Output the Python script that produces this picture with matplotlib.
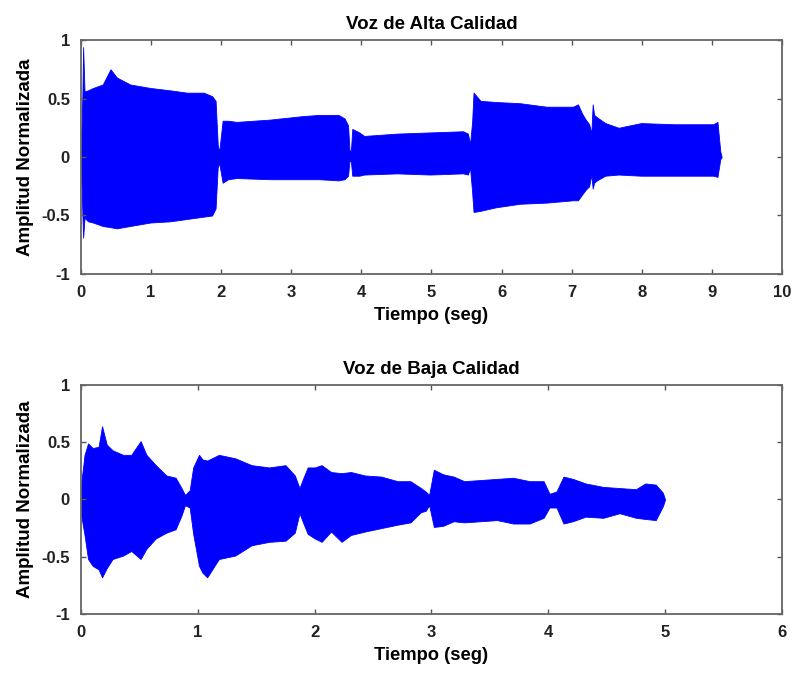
import matplotlib
matplotlib.use('Agg')
import matplotlib.pyplot as plt
import numpy as np

plt.rcParams['font.family'] = ['Liberation Sans', 'DejaVu Sans']
plt.rcParams['font.weight'] = 'bold'

# Voz de Alta Calidad: envolvente (tiempo, maximo, minimo)
t_alta = [0.00, 0.02, 0.03, 0.05, 0.10, 0.17, 0.31, 0.42, 0.51, 0.70, 0.99, 1.27,
          1.51, 1.75, 1.87, 1.92, 1.95, 1.97, 2.00, 2.02, 2.10, 2.22, 2.70, 3.17,
          3.40, 3.67, 3.76, 3.81, 3.83, 3.85, 3.87, 3.97, 4.04, 4.51, 4.98, 5.45,
          5.52, 5.55, 5.58, 5.60, 5.70, 5.92, 6.26, 6.64, 6.83, 7.02, 7.09, 7.15,
          7.20, 7.25, 7.28, 7.30, 7.32, 7.36, 7.48, 7.67, 7.99, 8.46, 9.02, 9.08,
          9.12, 9.14]
sup_alta = [0.07, 0.55, 0.94, 0.56, 0.57, 0.59, 0.62, 0.75, 0.68, 0.62, 0.59, 0.57,
            0.55, 0.55, 0.52, 0.48, 0.11, 0.04, 0.20, 0.31, 0.31, 0.30, 0.32, 0.35,
            0.36, 0.36, 0.33, 0.27, 0.06, 0.05, 0.24, 0.21, 0.18, 0.20, 0.21, 0.22,
            0.20, 0.11, 0.30, 0.55, 0.48, 0.47, 0.46, 0.43, 0.43, 0.43, 0.45, 0.37,
            0.32, 0.28, 0.20, 0.45, 0.36, 0.34, 0.29, 0.25, 0.29, 0.28, 0.28, 0.30,
            0.05, 0.00]
inf_alta = [-0.07, -0.50, -0.69, -0.52, -0.55, -0.56, -0.59, -0.60, -0.61, -0.59, -0.56, -0.55,
            -0.53, -0.51, -0.50, -0.44, -0.09, -0.05, -0.15, -0.22, -0.19, -0.18, -0.19, -0.19,
            -0.19, -0.20, -0.19, -0.16, -0.03, -0.04, -0.16, -0.16, -0.15, -0.14, -0.15, -0.14,
            -0.15, -0.09, -0.30, -0.47, -0.46, -0.43, -0.40, -0.39, -0.38, -0.37, -0.37, -0.32,
            -0.28, -0.25, -0.15, -0.27, -0.22, -0.20, -0.16, -0.15, -0.16, -0.16, -0.16, -0.17,
            -0.02, 0.00]

# Voz de Baja Calidad
t_baja = [0.00, 0.03, 0.06, 0.10, 0.15, 0.18, 0.22, 0.27, 0.36, 0.43, 0.51, 0.56,
          0.64, 0.73, 0.81, 0.86, 0.89, 0.93, 0.96, 1.01, 1.04, 1.08, 1.18, 1.32,
          1.46, 1.61, 1.75, 1.83, 1.87, 1.90, 1.94, 2.00, 2.06, 2.14, 2.23, 2.31,
          2.43, 2.57, 2.71, 2.82, 2.91, 2.95, 2.98, 3.02, 3.10, 3.19, 3.28, 3.42,
          3.56, 3.70, 3.84, 3.96, 4.01, 4.07, 4.13, 4.21, 4.32, 4.47, 4.61, 4.75,
          4.83, 4.92, 4.98, 5.00]
sup_baja = [0.13, 0.39, 0.49, 0.45, 0.46, 0.64, 0.48, 0.43, 0.39, 0.39, 0.51, 0.39,
            0.30, 0.21, 0.19, 0.10, 0.04, 0.08, 0.28, 0.39, 0.35, 0.34, 0.39, 0.36,
            0.30, 0.28, 0.30, 0.21, 0.10, 0.18, 0.28, 0.28, 0.30, 0.24, 0.23, 0.24,
            0.21, 0.20, 0.16, 0.16, 0.10, 0.07, 0.04, 0.26, 0.22, 0.20, 0.16, 0.17,
            0.18, 0.19, 0.16, 0.16, 0.05, 0.07, 0.20, 0.18, 0.14, 0.11, 0.10, 0.09,
            0.14, 0.13, 0.06, 0.00]
inf_baja = [-0.13, -0.31, -0.52, -0.58, -0.61, -0.68, -0.60, -0.52, -0.49, -0.45, -0.52, -0.43,
            -0.34, -0.29, -0.26, -0.14, -0.05, -0.07, -0.30, -0.58, -0.64, -0.68, -0.52, -0.49,
            -0.40, -0.37, -0.36, -0.29, -0.12, -0.20, -0.30, -0.34, -0.37, -0.28, -0.37, -0.31,
            -0.28, -0.25, -0.22, -0.20, -0.11, -0.10, -0.05, -0.24, -0.23, -0.19, -0.20, -0.19,
            -0.18, -0.21, -0.21, -0.16, -0.07, -0.07, -0.21, -0.19, -0.15, -0.16, -0.12, -0.16,
            -0.17, -0.18, -0.06, 0.00]

fig = plt.figure(figsize=(7.92, 6.77), dpi=100)
ax1 = fig.add_axes([0.1023, 0.5953, 0.8850, 0.3456])
ax2 = fig.add_axes([0.1023, 0.0931, 0.8850, 0.3382])

def panel(ax, t, sup, inf, titulo, xmax):
    ax.fill_between(t, inf, sup, color='#0000ff', linewidth=0.6, edgecolor='#0000ff')
    ax.set_xlim(0, xmax)
    ax.set_ylim(-1, 1)
    ax.set_xticks(range(0, xmax + 1))
    ax.set_yticks([-1, -0.5, 0, 0.5, 1])
    ax.set_yticklabels(['-1', '-0.5', '0', '0.5', '1'])
    ax.set_title(titulo, fontsize=13.5, fontweight='bold', pad=8)
    ax.set_xlabel('Tiempo (seg)', fontsize=13.2, fontweight='bold', labelpad=5)
    ax.set_ylabel('Amplitud Normalizada', fontsize=13.5, fontweight='bold', labelpad=5)
    ax.tick_params(direction='in', length=3.5, width=1, top=True, right=True,
                   labelsize=12, colors='#555555', labelcolor='#222222', pad=8)
    for s in ax.spines.values():
        s.set_color('#666666')
        s.set_linewidth(1.3)

panel(ax1, t_alta, sup_alta, inf_alta, 'Voz de Alta Calidad', 10)
panel(ax2, t_baja, sup_baja, inf_baja, 'Voz de Baja Calidad', 6)

fig.savefig('out.png', dpi=100, facecolor='white')
